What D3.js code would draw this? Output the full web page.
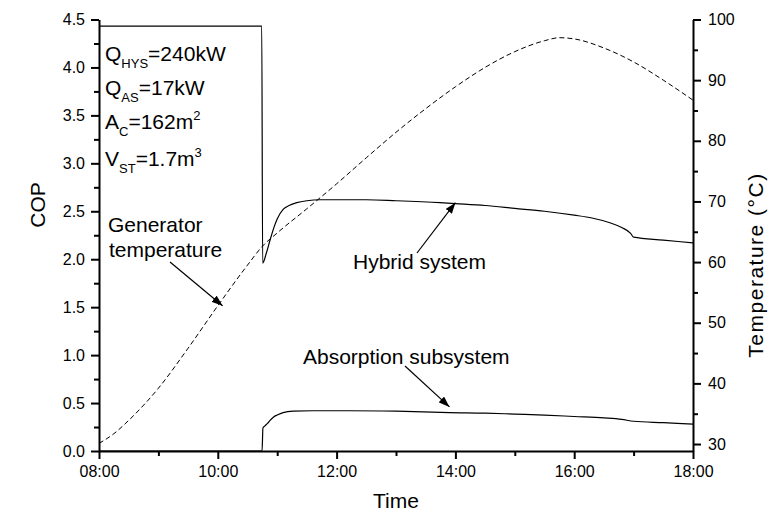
<!DOCTYPE html>
<html>
<head>
<meta charset="utf-8">
<script src="https://cdnjs.cloudflare.com/ajax/libs/d3/7.8.5/d3.min.js"></script>
<style>
body{margin:0;background:#fff;}
svg{display:block;font-family:"Liberation Sans",Arial,sans-serif;}
.axis path,.axis line{stroke:#000;stroke-width:2;}
.axis text{font-size:16px;fill:#000;font-family:"Liberation Sans",Arial,sans-serif;}
.note{font-size:21px;fill:#000;}
</style>
</head>
<body>
<div id="canvas"></div>
<script>
// data (time in hours)
var timeTicks = [8,10,12,14,16,18];
var timeLabels = ['08:00','10:00','12:00','14:00','16:00','18:00'];
var copTicks = [0,0.5,1,1.5,2,2.5,3,3.5,4,4.5];
var tempTicks = [30,40,50,60,70,80,90,100];

var hybridTime = [8,10.74,10.755,10.82,10.88,10.95,11.0,11.1,11.2,11.33,11.5,11.72,12.0,12.5,13.0,13.74,14.0,14.5,15.0,15.5,16.0,16.3,16.6,16.8,16.95,17.0,17.5,18.0];
var hybridCOP  = [4.43,4.43,1.96,2.07,2.20,2.34,2.42,2.52,2.56,2.59,2.61,2.62,2.62,2.62,2.61,2.59,2.58,2.56,2.53,2.50,2.46,2.43,2.38,2.33,2.27,2.23,2.20,2.17];

var absTime = [8,10.745,10.76,10.79,10.84,10.88,10.94,11.0,11.1,11.27,11.6,12.2,13.0,13.9,14.5,15.0,15.5,16.0,16.5,16.8,17.0,17.5,18.0];
var absCOP  = [0,0,0.24,0.26,0.29,0.32,0.355,0.375,0.40,0.415,0.42,0.42,0.415,0.40,0.395,0.385,0.375,0.36,0.345,0.33,0.31,0.295,0.28];

var genTime = [8,8.25,8.5,9,9.5,10,10.5,10.75,11,11.5,12,12.5,13,13.5,14,14.5,15,15.5,15.75,16,16.5,17,17.5,18];
var genTemp = [30.1,31.7,33.9,39.2,45.8,52.8,59.5,62.6,64.8,68.8,72.9,77.2,81.4,85.3,88.9,92.1,94.7,96.5,97.0,96.8,95.3,93.0,90.0,86.7];

var W = 769, H = 519;
var m = {t:19.5, l:99, r:693, b:451};

var svg = d3.select('#canvas').append('svg')
    .attr('width',W).attr('height',H);

var defs = svg.append('defs');
defs.append('marker').attr('id','arrow')
    .attr('markerUnits','userSpaceOnUse')
    .attr('markerWidth',12).attr('markerHeight',8)
    .attr('refX',11).attr('refY',4)
    .attr('orient','auto')
    .append('path').attr('d','M0,0 L11,4 L0,8 z').attr('fill','#000');

var x = d3.scaleLinear().domain([8,18]).range([m.l,m.r]);
var yC = d3.scaleLinear().domain([0,4.5]).range([m.b,m.t]);
var yT = d3.scaleLinear().domain([28.85,100]).range([m.b,m.t]);

// axes
svg.append('g').attr('class','axis')
    .attr('transform','translate(0,'+m.b+')')
    .call(d3.axisBottom(x).tickValues([9,11,13,15,17]).tickSize(5).tickSizeOuter(0).tickFormat(''))
    .select('.domain').remove();
svg.append('g').attr('class','axis')
    .attr('transform','translate(0,'+m.b+')')
    .call(d3.axisBottom(x).tickValues(timeTicks).tickSize(8).tickSizeOuter(0).tickPadding(7)
        .tickFormat(function(d,i){return timeLabels[i];}));

svg.append('g').attr('class','axis')
    .attr('transform','translate('+m.l+',0)')
    .call(d3.axisLeft(yC).tickValues(d3.range(0.25,4.5,0.5)).tickSize(5).tickFormat(''))
    .select('.domain').remove();
svg.append('g').attr('class','axis')
    .attr('transform','translate('+m.l+',0)')
    .call(d3.axisLeft(yC).tickValues(copTicks).tickSize(8).tickSizeOuter(0).tickPadding(6)
        .tickFormat(d3.format('.1f')));

svg.append('g').attr('class','axis')
    .attr('transform','translate('+m.r+',0)')
    .call(d3.axisRight(yT).tickValues(d3.range(35,100,10)).tickSize(5).tickFormat(''))
    .select('.domain').remove();
svg.append('g').attr('class','axis')
    .attr('transform','translate('+m.r+',0)')
    .call(d3.axisRight(yT).tickValues(tempTicks).tickSize(8).tickSizeOuter(0).tickPadding(7));

// lines
function pairs(a,b){ return a.map(function(d,i){return [d,b[i]];}); }

var lineC = d3.line().x(function(d){return x(d[0]);}).y(function(d){return yC(d[1]);})
    .curve(d3.curveMonotoneX);
var lineT = d3.line().x(function(d){return x(d[0]);}).y(function(d){return yT(d[1]);})
    .curve(d3.curveMonotoneX);

svg.append('path').datum(pairs(genTime,genTemp))
    .attr('d',lineT).attr('fill','none').attr('stroke','#000')
    .attr('stroke-width',1).attr('stroke-dasharray','5,3');
svg.append('path').datum(pairs(hybridTime,hybridCOP))
    .attr('d',lineC).attr('fill','none').attr('stroke','#000').attr('stroke-width',1.2);
svg.append('path').datum(pairs(absTime,absCOP))
    .attr('d',lineC).attr('fill','none').attr('stroke','#000').attr('stroke-width',1.2);

// parameter notes
function note(y, main, sub, rest, sup){
    var t = svg.append('text').attr('class','note').attr('x',105).attr('y',y);
    t.append('tspan').text(main);
    t.append('tspan').attr('font-size',13).attr('dy',7).text(sub);
    t.append('tspan').attr('dy',-7).text(rest);
    if(sup){ t.append('tspan').attr('font-size',13).attr('dy',-9).text(sup); }
}
note(61,'Q','HYS','=240kW');
note(95,'Q','AS','=17kW');
note(129,'A','C','=162m','2');
note(166,'V','ST','=1.7m','3');

// labels with arrows
svg.append('text').attr('class','note').attr('x',108).attr('y',232).text('Generator');
svg.append('text').attr('class','note').attr('x',109).attr('y',257).text('temperature');
svg.append('line').attr('x1',170).attr('y1',262)
    .attr('x2',x(10.08)).attr('y2',yT(52.8))
    .attr('stroke','#000').attr('stroke-width',1.2).attr('marker-end','url(#arrow)');

svg.append('text').attr('class','note').attr('x',353).attr('y',269).text('Hybrid system');
svg.append('line').attr('x1',417).attr('y1',253)
    .attr('x2',x(14.0)).attr('y2',yC(2.59))
    .attr('stroke','#000').attr('stroke-width',1.2).attr('marker-end','url(#arrow)');

svg.append('text').attr('class','note').attr('x',303).attr('y',364).text('Absorption subsystem');
svg.append('line').attr('x1',405).attr('y1',366)
    .attr('x2',x(13.9)).attr('y2',yC(0.46))
    .attr('stroke','#000').attr('stroke-width',1.2).attr('marker-end','url(#arrow)');

// axis titles
svg.append('text').attr('class','note').attr('text-anchor','middle')
    .attr('x',396).attr('y',508).text('Time');
svg.append('text').attr('class','note').attr('text-anchor','middle')
    .attr('transform','translate(45,205) rotate(-90)').text('COP');
svg.append('text').attr('class','note').attr('text-anchor','middle')
    .attr('letter-spacing',1.5)
    .attr('transform','translate(763,265) rotate(-90)').text('Temperature (\u00B0C)');
</script>
</body>
</html>
